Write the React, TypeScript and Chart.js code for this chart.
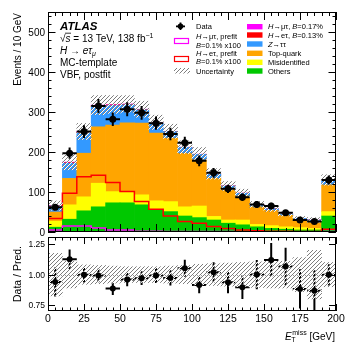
import React, { useEffect, useRef } from 'react';
import { Chart, registerables } from 'chart.js';

Chart.register(...registerables);

// ---------- data ----------
const binEdges = [0, 10, 20, 30, 40, 50, 60, 70, 80, 90, 100, 110, 120, 130, 140, 150, 160, 170, 180, 190, 200];
const binCenters = [5, 15, 25, 35, 45, 55, 65, 75, 85, 95, 105, 115, 125, 135, 145, 155, 165, 175, 185, 195];
const dataEvents = [62, 197, 251, 315, 282, 307, 298, 272, 245, 223, 178, 148, 108, 87, 69, 65, 48, 30, 26, 130];
const others = [12, 32, 53, 63, 73, 73, 68, 55, 51, 40, 36, 30, 22, 18, 13, 9, 7, 5, 5, 40];
const misid = [15, 36, 35, 59, 28, 28, 25, 23, 25, 23, 29, 9, 8, 12, 6, 7, 6, 6, 4, 11];
const topQuark = [23, 66, 109, 141, 166, 172, 179, 169, 159, 134, 115, 95, 77, 60, 44, 38, 29, 18, 17, 67];
const zTauTau = [15, 38, 51, 51, 49, 45, 33.5, 26, 16, 14.5, 14, 11, 8, 7, 6, 4, 3, 5, 4, 12];
const sigETPostfit = [0.5, 1.3, 1.8, 1.8, 1.6, 1.3, 1.0, 0.8, 0.5, 0.3, 0.3, 0.2, 0.1, 0.1, 0, 0, 0, 0, 0, 0.1];
const sigMuTPostfit = [0.5, 1.5, 1.5, 1.5, 1.2, 0.8, 0.5, 0.4, 0.3, 0.2, 0.2, 0.1, 0.1, 0.1, 0, 0, 0, 0, 0, 0.1];
const prefitET = [34, 97, 138, 142, 124, 101, 76, 57, 40, 26, 22, 14, 9, 5, 3, 2, 2, 1, 1, 7];
const prefitMuT = [5, 15, 15, 10, 5, 5, 2, 2, 1.5, 1, 1, 1, 1, 0.5, 0.5, 0.3, 0.3, 0.2, 0.2, 1];
const relUnc = [0.175, 0.11, 0.08, 0.075, 0.07, 0.065, 0.065, 0.065, 0.07, 0.075, 0.085, 0.09, 0.095, 0.1, 0.105, 0.11, 0.11, 0.14, 0.2, 0.1];

const mainYTicks = [0, 100, 200, 300, 400, 500];
const mainYTickLabels = ['0', '100', '200', '300', '400', '500'];
const ratioYTicks = [0.75, 1.0, 1.25];
const ratioYTickLabels = ['0.75', '1.00', '1.25'];
const xTicks = [0, 25, 50, 75, 100, 125, 150, 175, 200];
const xTickLabels = ['0', '25', '50', '75', '100', '125', '150', '175', '200'];

// ---------- style ----------
const GREEN = '#00c800';
const YELLOW = '#ffff00';
const ORANGE = '#ffa500';
const BLUE = '#3399ff';
const RED = '#ff0000';
const MAGENTA = '#ff00ff';
const FONT = '"Liberation Sans", Arial, Helvetica, sans-serif';
const fnt = (size: number, it = false, bold = false) => `${it ? 'italic ' : ''}${bold ? 'bold ' : ''}${size}px ${FONT}`;

type Seg = { t: string; it?: boolean; bold?: boolean; size?: number; dy?: number };

function drawRich(ctx: CanvasRenderingContext2D, segs: Seg[], x: number, y: number, size: number, align: 'left' | 'right' = 'left') {
  let w = 0;
  for (const s of segs) {
    ctx.font = fnt(s.size ?? size, s.it, s.bold);
    w += ctx.measureText(s.t).width;
  }
  let cx = align === 'right' ? x - w : x;
  ctx.textAlign = 'left';
  ctx.textBaseline = 'alphabetic';
  for (const s of segs) {
    ctx.font = fnt(s.size ?? size, s.it, s.bold);
    ctx.fillText(s.t, cx, y + (s.dy ?? 0));
    cx += ctx.measureText(s.t).width;
  }
  return cx;
}

function makeHatch(): CanvasPattern | string {
  const c = document.createElement('canvas');
  c.width = 4;
  c.height = 4;
  const ctx = c.getContext('2d');
  if (!ctx) return 'rgba(128,128,128,0.4)';
  const img = ctx.createImageData(4, 4);
  for (let yy = 0; yy < 4; yy++) {
    for (let xx = 0; xx < 4; xx++) {
      const k = (xx + yy) % 4;
      const i = (yy * 4 + xx) * 4;
      if (k === 0) {
        img.data[i] = 125; img.data[i + 1] = 125; img.data[i + 2] = 125; img.data[i + 3] = 255;
      } else if (k === 1) {
        img.data[i] = 255; img.data[i + 1] = 255; img.data[i + 2] = 255; img.data[i + 3] = 255;
      } else {
        img.data[i + 3] = 0;
      }
    }
  }
  ctx.putImageData(img, 0, 0);
  return ctx.createPattern(c, 'repeat') || 'rgba(128,128,128,0.4)';
}

function drawFrameTicks(chart: any, yMaj: number[], yMin: number[], lxMaj: number, lxMin: number, lyMaj: number, lyMin: number) {
  const { ctx, chartArea: a, scales } = chart;
  const x = scales.x, y = scales.y;
  ctx.save();
  ctx.strokeStyle = '#000';
  ctx.lineWidth = 1;
  ctx.strokeRect(Math.round(a.left) + 0.5, Math.round(a.top) + 0.5, Math.round(a.right - a.left) - 1, Math.round(a.bottom - a.top) - 1);
  ctx.beginPath();
  const bot = Math.round(a.bottom), top = Math.round(a.top), lft = Math.round(a.left), rgt = Math.round(a.right);
  for (let v = 0; v <= 200; v += 5) {
    const px = Math.round(x.getPixelForValue(v)) + 0.5;
    const L = v % 25 === 0 ? lxMaj : lxMin;
    ctx.moveTo(px, bot); ctx.lineTo(px, bot - L);
    ctx.moveTo(px, top); ctx.lineTo(px, top + L);
  }
  const yTick = (v: number, L: number) => {
    const py = Math.round(y.getPixelForValue(v)) + 0.5;
    ctx.moveTo(lft, py); ctx.lineTo(lft + L, py);
    ctx.moveTo(rgt, py); ctx.lineTo(rgt - L, py);
  };
  yMaj.forEach((v) => yTick(v, lyMaj));
  yMin.forEach((v) => yTick(v, lyMin));
  ctx.stroke();
  ctx.restore();
}

export default function App() {
  const mainRef = useRef<HTMLCanvasElement>(null);
  const ratioRef = useRef<HTMLCanvasElement>(null);

  useEffect(() => {
    const hatch = makeHatch();
    const total = binCenters.map((_, i) => others[i] + misid[i] + topQuark[i] + zTauTau[i] + sigETPostfit[i] + sigMuTPostfit[i]);
    const ratio = dataEvents.map((d, i) => d / total[i]);
    const ratioErr = dataEvents.map((d, i) => Math.sqrt(d) / total[i]);
    const stepPts = (vals: number[]) => binEdges.map((e, i) => ({ x: e, y: vals[Math.min(i, vals.length - 1)] }));
    const barDs = (label: string, vals: number[], color: string) => ({
      type: 'bar' as const,
      label,
      data: binCenters.map((c, i) => ({ x: c, y: vals[i] })),
      backgroundColor: color,
      borderWidth: 0,
      barPercentage: 1,
      categoryPercentage: 1,
      stack: 'bg',
      order: 10,
    });

    const mainPlugin = {
      id: 'mainDeco',
      afterDatasetsDraw(chart: any) {
        const { ctx, chartArea: a, scales: { x, y } } = chart;
        ctx.save();
        ctx.beginPath();
        ctx.rect(a.left, a.top, a.right - a.left, a.bottom - a.top);
        ctx.clip();
        ctx.strokeStyle = '#000';
        ctx.lineWidth = 2;
        binCenters.forEach((c, i) => {
          const v = dataEvents[i];
          const e = Math.sqrt(v);
          const px = x.getPixelForValue(c);
          const py = y.getPixelForValue(v);
          ctx.beginPath();
          ctx.moveTo(x.getPixelForValue(binEdges[i]), py);
          ctx.lineTo(x.getPixelForValue(binEdges[i + 1]), py);
          ctx.moveTo(px, y.getPixelForValue(v - e));
          ctx.lineTo(px, y.getPixelForValue(v + e));
          ctx.stroke();
        });
        ctx.restore();
      },
      afterDraw(chart: any) {
        const { ctx, chartArea: a, scales: { y } } = chart;
        const minors: number[] = [];
        for (let v = 20; v <= 540; v += 20) if (v % 100 !== 0) minors.push(v);
        drawFrameTicks(chart, mainYTicks, minors, 8, 4, 7.5, 3.5);
        ctx.save();
        ctx.fillStyle = '#000';
        ctx.font = fnt(10);
        ctx.textAlign = 'right';
        ctx.textBaseline = 'alphabetic';
        mainYTicks.forEach((v, i) => ctx.fillText(mainYTickLabels[i], a.left - 3, y.getPixelForValue(v) + 3.6));
        ctx.save();
        ctx.translate(20.5, 13);
        ctx.rotate(-Math.PI / 2);
        ctx.font = fnt(10);
        ctx.textAlign = 'right';
        ctx.fillText('Events / 10 GeV', 0, 0);
        ctx.restore();
        // ATLAS label
        drawRich(ctx, [{ t: 'ATLAS', it: true, bold: true }], 60, 30, 11.5);
        const xs = drawRich(ctx, [{ t: '\u221A' }], 60, 41.5, 10);
        const xe = drawRich(ctx, [{ t: 's', it: true }], xs, 41.5, 10);
        ctx.beginPath();
        ctx.lineWidth = 0.8;
        ctx.strokeStyle = '#000';
        ctx.moveTo(xs - 0.5, 33.2);
        ctx.lineTo(xe + 0.5, 33.2);
        ctx.stroke();
        drawRich(ctx, [{ t: ' = 13 TeV, 138 fb' }, { t: '\u22121', size: 7, dy: -4 }], xe, 41.5, 10);
        drawRich(ctx, [{ t: 'H', it: true }, { t: ' \u2192 ' }, { t: 'e\u03C4', it: true }, { t: '\u03BC', it: true, size: 7, dy: 2.5 }], 60, 53.5, 10);
        drawRich(ctx, [{ t: 'MC-template' }], 60, 65.5, 10);
        drawRich(ctx, [{ t: 'VBF, postfit' }], 60, 77.5, 10);

        // legend, left column
        const LS = 7.5;
        ctx.strokeStyle = '#000';
        ctx.lineWidth = 1.8;
        ctx.beginPath();
        ctx.moveTo(176, 26.3); ctx.lineTo(185, 26.3);
        ctx.moveTo(180.5, 22.5); ctx.lineTo(180.5, 30);
        ctx.stroke();
        ctx.beginPath();
        ctx.arc(180.5, 26.3, 2.8, 0, 2 * Math.PI);
        ctx.fill();
        drawRich(ctx, [{ t: 'Data' }], 196, 29, LS);

        ctx.lineWidth = 1.2;
        ctx.fillStyle = '#fff';
        ctx.fillRect(174.5, 38.5, 14, 5);
        ctx.strokeStyle = MAGENTA;
        ctx.strokeRect(174.5, 38.5, 14, 5);
        ctx.fillStyle = '#fff';
        ctx.fillRect(174.5, 56.5, 14, 5);
        ctx.strokeStyle = RED;
        ctx.strokeRect(174.5, 56.5, 14, 5);
        ctx.fillStyle = '#000';
        drawRich(ctx, [{ t: 'H', it: true }, { t: '\u2192\u03BC\u03C4, prefit' }], 196, 39, LS);
        drawRich(ctx, [{ t: 'B', it: true }, { t: '=0.1% x100' }], 196, 48, LS);
        drawRich(ctx, [{ t: 'H', it: true }, { t: '\u2192e\u03C4, prefit' }], 196, 56, LS);
        drawRich(ctx, [{ t: 'B', it: true }, { t: '=0.1% x100' }], 196, 64.4, LS);
        ctx.fillStyle = hatch as any;
        ctx.fillRect(174, 68, 16, 5.5);
        ctx.fillStyle = '#000';
        drawRich(ctx, [{ t: 'Uncertainty' }], 196, 73.7, LS);

        // legend, right column
        const rItems: [string, number, Seg[]][] = [
          [MAGENTA, 26.7, [{ t: 'H', it: true }, { t: '\u2192\u03BC\u03C4, ' }, { t: 'B', it: true }, { t: '=0.17%' }]],
          [RED, 35, [{ t: 'H', it: true }, { t: '\u2192e\u03C4, ' }, { t: 'B', it: true }, { t: '=0.13%' }]],
          [BLUE, 44, [{ t: 'Z', it: true }, { t: '\u2192\u03C4\u03C4' }]],
          [ORANGE, 53.3, [{ t: 'Top-quark' }]],
          [YELLOW, 62.3, [{ t: 'Misidentified' }]],
          [GREEN, 71, [{ t: 'Others' }]],
        ];
        rItems.forEach(([col, cy, segs]) => {
          ctx.fillStyle = col;
          ctx.fillRect(247, cy - 2.7, 15.5, 5.4);
          ctx.fillStyle = '#000';
          drawRich(ctx, segs, 268, cy + 2.7, LS);
        });
        ctx.restore();
      },
    };

    const main = new Chart(mainRef.current as HTMLCanvasElement, {
      type: 'bar',
      data: {
        datasets: [
          {
            type: 'scatter',
            label: 'Data',
            data: binCenters.map((c, i) => ({ x: c, y: dataEvents[i] })),
            pointRadius: 3.5,
            pointHoverRadius: 3.5,
            backgroundColor: '#000',
            borderColor: '#000',
            borderWidth: 0,
            stack: 'data',
            order: 1,
          } as any,
          {
            type: 'bar',
            label: 'Uncertainty',
            data: binCenters.map((c, i) => ({ x: c, y: [total[i] * (1 - relUnc[i]), total[i] * (1 + relUnc[i])] })),
            backgroundColor: hatch,
            borderWidth: 0,
            barPercentage: 1,
            categoryPercentage: 1,
            grouped: false,
            stack: 'unc',
            order: 2,
          } as any,
          {
            type: 'line',
            label: 'H→eτ prefit',
            data: stepPts(prefitET),
            stepped: true,
            borderColor: RED,
            borderWidth: 1.5,
            pointRadius: 0,
            fill: false,
            stack: 'pe',
            order: 3,
          } as any,
          {
            type: 'line',
            label: 'H→μτ prefit',
            data: stepPts(prefitMuT),
            stepped: true,
            borderColor: MAGENTA,
            borderWidth: 1.5,
            pointRadius: 0,
            fill: false,
            stack: 'pm',
            order: 3,
          } as any,
          barDs('Others', others, GREEN) as any,
          barDs('Misidentified', misid, YELLOW) as any,
          barDs('Top-quark', topQuark, ORANGE) as any,
          barDs('Z→ττ', zTauTau, BLUE) as any,
          barDs('H→eτ', sigETPostfit, RED) as any,
          barDs('H→μτ', sigMuTPostfit, MAGENTA) as any,
        ],
      },
      options: {
        responsive: false,
        animation: false,
        devicePixelRatio: 1,
        events: [],
        layout: { padding: { left: 48, right: 21, top: 12, bottom: 4 } },
        plugins: { legend: { display: false }, tooltip: { enabled: false }, title: { display: false } },
        scales: {
          x: { type: 'linear', min: 0, max: 200, offset: false, display: false, stacked: true, ticks: { stepSize: 10 } },
          y: { type: 'linear', min: 0, max: 550, display: false, stacked: true },
        },
      } as any,
      plugins: [mainPlugin],
    });

    const ratioPlugin = {
      id: 'ratioDeco',
      beforeDatasetsDraw(chart: any) {
        const { ctx, chartArea: a, scales: { x, y } } = chart;
        ctx.save();
        ctx.beginPath();
        ctx.rect(a.left, a.top, a.right - a.left, a.bottom - a.top);
        ctx.clip();
        ctx.strokeStyle = '#999';
        ctx.lineWidth = 1;
        ctx.setLineDash([2, 2]);
        ctx.beginPath();
        const p1 = Math.round(y.getPixelForValue(1)) + 0.5;
        ctx.moveTo(a.left, p1);
        ctx.lineTo(a.right, p1);
        ctx.stroke();
        ctx.setLineDash([]);
        ctx.strokeStyle = '#000';
        ctx.lineWidth = 2;
        binCenters.forEach((c, i) => {
          const r = ratio[i];
          const e = ratioErr[i];
          const px = x.getPixelForValue(c);
          const py = y.getPixelForValue(r);
          ctx.beginPath();
          ctx.moveTo(x.getPixelForValue(binEdges[i]), py);
          ctx.lineTo(x.getPixelForValue(binEdges[i + 1]), py);
          ctx.moveTo(px, y.getPixelForValue(r - e));
          ctx.lineTo(px, y.getPixelForValue(r + e));
          ctx.stroke();
        });
        ctx.restore();
      },
      afterDraw(chart: any) {
        const { ctx, chartArea: a, scales: { x, y } } = chart;
        drawFrameTicks(chart, ratioYTicks, [], 7, 3.5, 7, 3.5);
        ctx.save();
        ctx.fillStyle = '#000';
        ctx.font = fnt(8.5);
        ctx.textAlign = 'right';
        ctx.textBaseline = 'alphabetic';
        ratioYTicks.forEach((v, i) => ctx.fillText(ratioYTickLabels[i], a.left - 3, y.getPixelForValue(v) + 3));
        ctx.font = fnt(10.5);
        ctx.textAlign = 'center';
        xTicks.forEach((v, i) => ctx.fillText(xTickLabels[i], x.getPixelForValue(v), a.bottom + 11));
        ctx.save();
        ctx.translate(20.5, (a.top + a.bottom) / 2);
        ctx.rotate(-Math.PI / 2);
        ctx.font = fnt(10.5);
        ctx.textAlign = 'center';
        ctx.fillText('Data / Pred.', 0, 0);
        ctx.restore();
        // x title: E_T^miss [GeV]
        const base = a.bottom + 28.5;
        const TS = 10;
        ctx.font = fnt(TS);
        const wG = ctx.measureText(' [GeV]').width;
        ctx.font = fnt(7);
        const wM = ctx.measureText('miss').width;
        ctx.font = fnt(TS, true);
        const wE = ctx.measureText('E').width;
        const xEnd = 335;
        const x0 = xEnd - wG - wM - wE - 0.5;
        ctx.textAlign = 'left';
        ctx.fillText('E', x0, base);
        ctx.font = fnt(7);
        ctx.fillText('miss', x0 + wE + 0.5, base - 4.5);
        ctx.fillText('T', x0 + wE - 0.5, base + 2.5);
        ctx.font = fnt(TS);
        ctx.fillText(' [GeV]', x0 + wE + 0.5 + wM, base);
        ctx.restore();
      },
    };

    const ratioChart = new Chart(ratioRef.current as HTMLCanvasElement, {
      type: 'bar',
      data: {
        datasets: [
          {
            type: 'scatter',
            label: 'Data / Pred.',
            data: binCenters.map((c, i) => ({ x: c, y: ratio[i] })),
            pointRadius: 3,
            pointHoverRadius: 3,
            backgroundColor: '#000',
            borderColor: '#000',
            borderWidth: 0,
            order: 1,
          } as any,
          {
            type: 'bar',
            label: 'Uncertainty',
            data: binCenters.map((c, i) => ({ x: c, y: [1 - relUnc[i], 1 + relUnc[i]] })),
            backgroundColor: hatch,
            borderWidth: 0,
            barPercentage: 1,
            categoryPercentage: 1,
            order: 2,
          } as any,
        ],
      },
      options: {
        responsive: false,
        animation: false,
        devicePixelRatio: 1,
        events: [],
        layout: { padding: { left: 48, right: 21, top: 3, bottom: 46 } },
        plugins: { legend: { display: false }, tooltip: { enabled: false }, title: { display: false } },
        scales: {
          x: { type: 'linear', min: 0, max: 200, offset: false, display: false, ticks: { stepSize: 10 } },
          y: { type: 'linear', min: 0.7, max: 1.31, display: false },
        },
      } as any,
      plugins: [ratioPlugin],
    });

    return () => {
      main.destroy();
      ratioChart.destroy();
    };
  }, []);

  return (
    <div style={{ position: 'fixed', left: 0, top: 0, width: 357, height: 357, background: '#fff' }}>
      <canvas ref={mainRef} width={357} height={236} style={{ position: 'absolute', left: 0, top: 0, width: 357, height: 236 }} />
      <canvas ref={ratioRef} width={357} height={123} style={{ position: 'absolute', left: 0, top: 234, width: 357, height: 123 }} />
    </div>
  );
}
